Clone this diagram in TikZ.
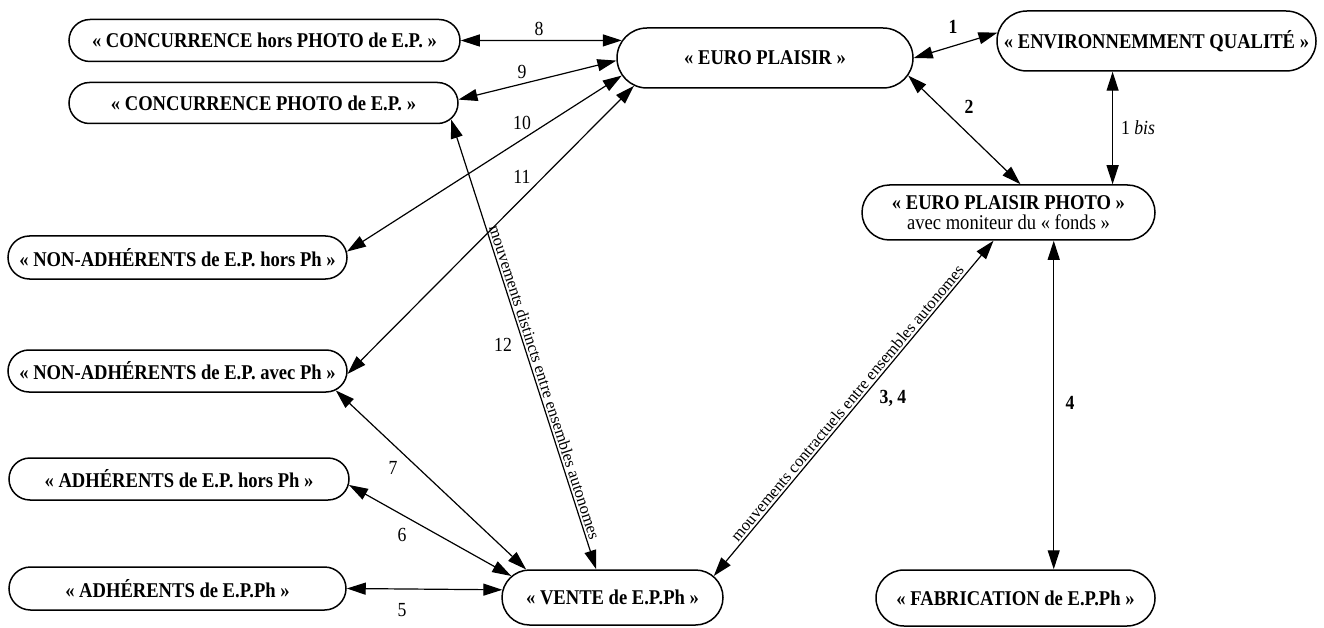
\documentclass[tikz,border=0pt]{standalone}
\usepackage{fontspec}
\setmainfont{Liberation Serif}[FakeStretch=0.885]
\newfontfamily\slopefont{Liberation Serif}
\usetikzlibrary{arrows.meta,shapes.misc}
\begin{document}
\begin{tikzpicture}[x=1pt,y=-1pt,
  box/.style={rounded rectangle, draw, line width=1.5pt, inner sep=0pt,
    font=\fontsize{21}{20}\selectfont\bfseries},
  conn/.style={line width=1.2pt,
    {Triangle[length=19pt,width=12pt]}-{Triangle[length=19pt,width=12pt]}},
  num/.style={font=\fontsize{20}{20}\selectfont, inner sep=0pt},
  bnum/.style={font=\fontsize{20}{20}\selectfont\bfseries, inner sep=0pt},
  slopetext/.style={font=\slopefont\fontsize{16.5}{16}\selectfont, sloped, above, inner sep=2pt}]
\useasboundingbox (0,0) rectangle (1324,628);

% entities
\node[box, minimum width=391pt, minimum height=42pt] (CHP) at (264.5,40.5) {« CONCURRENCE hors PHOTO de E.P. »};
\node[box, minimum width=389pt, minimum height=41pt] (CP) at (263.5,103) {« CONCURRENCE PHOTO de E.P. »};
\node[box, minimum width=296pt, minimum height=60pt] (EP) at (765,58) {« EURO PLAISIR »};
\node[box, minimum width=319pt, minimum height=60pt] (ENV) at (1156.5,41) {« ENVIRONNEMMENT QUALITÉ »};
\node[box, minimum width=293pt, minimum height=55pt, align=center] (EPP) at (1008.5,212.5)
  {« EURO PLAISIR PHOTO »\\{\mdseries avec moniteur du « fonds »}};
\node[box, minimum width=339pt, minimum height=43pt] (NAHP) at (177.5,257.5) {« NON-ADHÉRENTS de E.P. hors Ph »};
\node[box, minimum width=339pt, minimum height=42pt] (NAAP) at (177.5,371) {« NON-ADHÉRENTS de E.P. avec Ph »};
\node[box, minimum width=340pt, minimum height=42pt] (AHP) at (179,479) {« ADHÉRENTS de E.P. hors Ph »};
\node[box, minimum width=337pt, minimum height=43pt] (AEPPh) at (177.5,588.5) {« ADHÉRENTS de E.P.Ph »};
\node[box, minimum width=221pt, minimum height=55pt] (VENTE) at (612.5,597.5) {« VENTE de E.P.Ph »};
\node[box, minimum width=279pt, minimum height=56pt] (FAB) at (1015.5,598) {« FABRICATION de E.P.Ph »};

% flows
\draw[conn] (CHP.east) -- (EP.173);
\draw[conn] (CP.1) -- (EP.181);
\draw[conn] (NAHP.2) -- (EP.187);
\draw[conn] (NAAP.-1) -- (EP.192);
\draw[conn] (CP.-5) -- (VENTE.120)
  node[slopetext, pos=0.59] {mouvements distincts entre ensembles autonomes};
\draw[conn] (NAAP.-7) -- (VENTE.162);
\draw[conn] (AHP.-2) -- (VENTE.168);
\draw[conn] (AEPPh.east) -- (VENTE.176);
\draw[conn] (VENTE.12) -- (EPP.242)
  node[slopetext, midway] {mouvements contractuels entre ensembles autonomes};
\draw[conn] (EPP.-32.3) -- (FAB.north -| EPP.-32.3);
\draw[conn] (ENV.215.2) -- (EPP.north -| ENV.215.2);
\draw[conn] (EP.east) -- (ENV.177);
\draw[conn] (EP.-7) -- (EPP.67);

% flow numbers
\node[num] (l8) at (539,29) {8};
\node[num] (l9) at (522,72) {9};
\node[num] (l10) at (522,123) {10};
\node[num] (l11) at (522,177) {11};
\node[num] (l12) at (503,345) {12};
\node[num] (l7) at (393,468) {7};
\node[num] (l6) at (402,535) {6};
\node[num] (l5) at (402,610) {5};
\node[bnum] (l1) at (953,27) {1};
\node[bnum] (l2) at (969,107) {2};
\node[num] (l1bis) at (1138,128) {1 \textit{bis}};
\node[bnum] (l34) at (893,398) {3, 4};
\node[bnum] (l4) at (1070,403) {4};
\end{tikzpicture}
\end{document}
